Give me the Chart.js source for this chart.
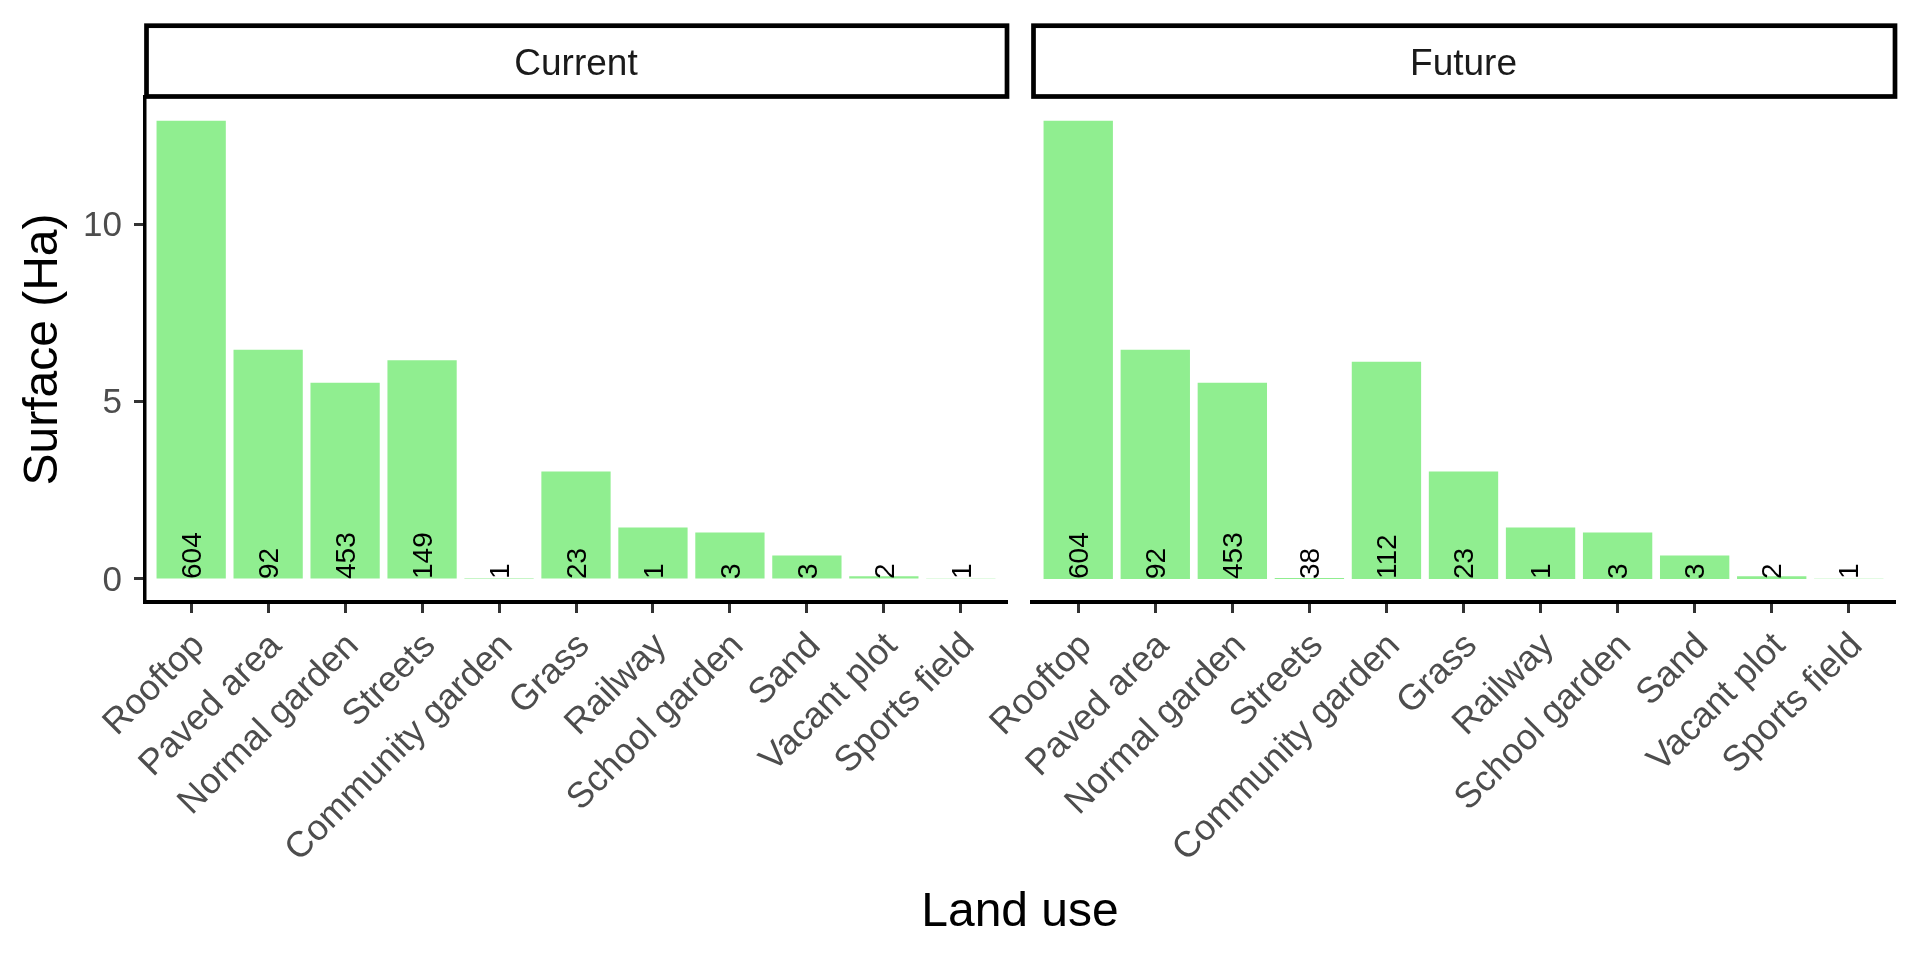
<!DOCTYPE html>
<html>
<head>
<meta charset="utf-8">
<script src="https://cdn.jsdelivr.net/npm/chart.js@4.4.1/dist/chart.umd.min.js"></script>
<style>
html,body{margin:0;padding:0;background:#fff;}
#wrap{position:relative;width:1920px;height:960px;overflow:hidden;background:#fff;}
canvas{position:absolute;top:0;}
#xtitle{position:absolute;left:1020px;top:886px;transform:translateX(-50%);font:48px/48px "Liberation Sans",Arial,sans-serif;color:#000;white-space:nowrap;}
</style>
</head>
<body>
<div id="wrap">
<canvas id="cCur" width="1020" height="960" style="left:0"></canvas>
<canvas id="cFut" width="1020" height="960" style="left:900px"></canvas>
<div id="xtitle">Land use</div>
</div>
<script>
// ---- data ----
const landUse = ["Rooftop","Paved area","Normal garden","Streets","Community garden","Grass","Railway","School garden","Sand","Vacant plot","Sports field"];
const currentSurface = [12.93, 6.47, 5.54, 6.17, 0.03, 3.03, 1.45, 1.31, 0.66, 0.08, 0.005];
const futureSurface  = [12.93, 6.47, 5.54, 0.03, 6.13, 3.03, 1.45, 1.31, 0.66, 0.08, 0.005];
const currentCount = [604, 92, 453, 149, 1, 23, 1, 3, 3, 2, 1];
const futureCount  = [604, 92, 453, 38, 112, 23, 1, 3, 3, 2, 1];
const yTickValues = [0, 5, 10];
const panelNames = ["Current", "Future"];

const FONT = '"Liberation Sans", Arial, sans-serif';

const stripPlugin = {
  id: 'strip',
  afterDraw(chart, args, opts) {
    const {ctx, chartArea: a} = chart;
    ctx.save();
    ctx.lineWidth = 4.7;
    ctx.strokeStyle = '#000';
    ctx.strokeRect(a.left + 1.5, 25.7, a.right - a.left - 1.5, 96.5 - 25.7);
    ctx.fillStyle = '#1A1A1A';
    ctx.font = '37px ' + FONT;
    ctx.textAlign = 'center';
    ctx.textBaseline = 'alphabetic';
    ctx.fillText(opts.text, (a.left + a.right) / 2, 75);
    ctx.restore();
  }
};

const countPlugin = {
  id: 'counts',
  afterDatasetsDraw(chart, args, opts) {
    const {ctx} = chart;
    const meta = chart.getDatasetMeta(0);
    const y0 = chart.scales.y.getPixelForValue(0);
    ctx.save();
    ctx.fillStyle = '#000';
    ctx.font = '28px ' + FONT;
    ctx.textAlign = 'left';
    ctx.textBaseline = 'middle';
    meta.data.forEach((bar, i) => {
      ctx.save();
      ctx.translate(bar.x + 2, y0);
      ctx.rotate(-Math.PI / 2);
      ctx.fillText(String(opts.labels[i]), 0, 0);
      ctx.restore();
    });
    ctx.restore();
  }
};

function makePanel(canvasId, values, counts, name, showY, padLeft, padRight) {
  return new Chart(document.getElementById(canvasId), {
    type: 'bar',
    data: {
      datasets: [{
        data: values.map((v, i) => ({x: i, y: v})),
        backgroundColor: '#90EE90',
        borderWidth: 0,
        barPercentage: 0.9,
        categoryPercentage: 1.0
      }]
    },
    options: {
      responsive: false,
      animation: false,
      devicePixelRatio: 1,
      layout: {padding: {left: padLeft, right: padRight, top: 97, bottom: 0}},
      plugins: {
        legend: {display: false},
        tooltip: {enabled: false},
        title: {display: false},
        strip: {text: name},
        counts: {labels: counts}
      },
      scales: {
        x: {
          type: 'linear',
          min: -0.6,
          max: 10.6,
          offset: false,
          afterBuildTicks: s => { s.ticks = landUse.map((_, i) => ({value: i})); },
          afterFit: s => { s.height = 358; s.paddingLeft = 0; s.paddingRight = 0; },
          ticks: {
            autoSkip: false,
            maxRotation: 45,
            minRotation: 45,
            color: '#4D4D4D',
            font: {family: FONT, size: 36},
            padding: 12,
            labelOffset: 8,
            callback: v => landUse[v]
          },
          grid: {drawOnChartArea: false, offset: false, tickLength: 11, tickColor: '#333333', tickWidth: 3},
          border: {display: true, color: '#000', width: 4}
        },
        y: {
          type: 'linear',
          min: -0.65,
          max: 13.6,
          display: showY,
          afterBuildTicks: s => { s.ticks = yTickValues.map(v => ({value: v})); },
          afterFit: s => { s.width = showY ? 145 : 0; },
          ticks: {color: '#4D4D4D', font: {family: FONT, size: 35}, padding: 12, labelOffset: 2},
          grid: {drawOnChartArea: false, tickLength: 11, tickColor: '#333333', tickWidth: 3},
          border: {display: true, color: '#000', width: 3.5},
          title: {display: true, text: 'Surface (Ha)', color: '#000', font: {family: FONT, size: 48}, padding: {top: 15, bottom: 0}}
        }
      }
    },
    plugins: [stripPlugin, countPlugin]
  });
}

makePanel('cCur', currentSurface, currentCount, panelNames[0], true, 0, 13);
makePanel('cFut', futureSurface, futureCount, panelNames[1], false, 132, 25);
</script>
</body>
</html>
